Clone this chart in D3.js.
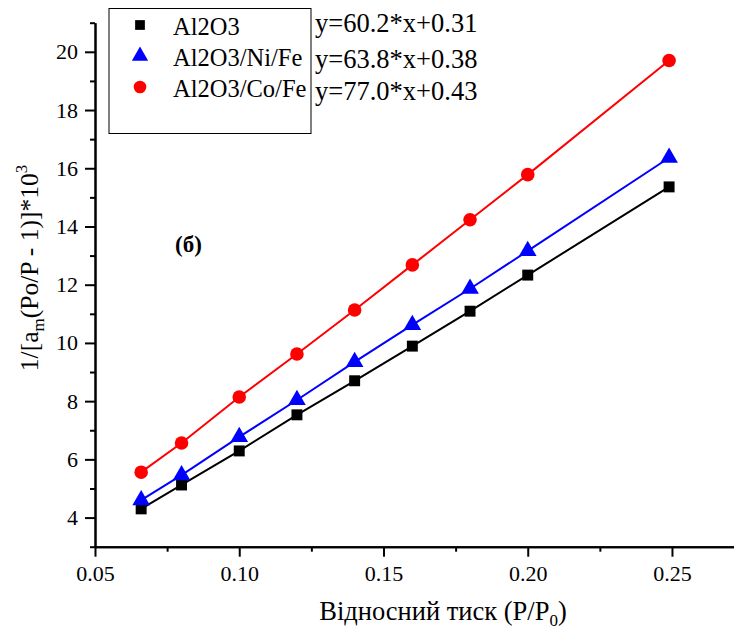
<!DOCTYPE html>
<html>
<head>
<meta charset="utf-8">
<script src="https://cdn.jsdelivr.net/npm/d3@7"></script>
<style>
  html, body { margin: 0; padding: 0; background: #fff; }
  svg { display: block; }
  text { font-family: "Liberation Serif", "Times New Roman", serif; fill: #000; }
</style>
</head>
<body>
<svg id="chart" width="734" height="630"></svg>
<script>
// ---- data ----
const pressure = [0.066, 0.080, 0.100, 0.120, 0.140, 0.160, 0.180, 0.200, 0.249];
const al2o3     = [4.30, 5.12, 6.29, 7.53, 8.70, 9.89, 11.09, 12.33, 15.36];
const al2o3NiFe = [4.60, 5.46, 6.77, 8.04, 9.35, 10.62, 11.86, 13.16, 16.36];
const al2o3CoFe = [5.56, 6.56, 8.14, 9.62, 11.13, 12.68, 14.23, 15.78, 19.70];
const seriesNames = ["Al2O3", "Al2O3/Ni/Fe", "Al2O3/Co/Fe"];
const equations = ["y=60.2*x+0.31", "y=63.8*x+0.38", "y=77.0*x+0.43"];
const xTicks = [0.05, 0.10, 0.15, 0.20, 0.25];
const xMinorTicks = [0.075, 0.125, 0.175, 0.225];
const yTicks = [4, 6, 8, 10, 12, 14, 16, 18, 20];
const yMinorTicks = [3, 5, 7, 9, 11, 13, 15, 17, 19, 21];

const FONT = "Liberation Serif, Times New Roman, serif";

const series = [
  { name: seriesNames[0], values: al2o3,     color: "#000000", shape: "square" },
  { name: seriesNames[1], values: al2o3NiFe, color: "#0000ff", shape: "triangle" },
  { name: seriesNames[2], values: al2o3CoFe, color: "#ff0000", shape: "circle" }
];

const svg = d3.select("#chart");
const x = d3.scaleLinear().domain([0.05, 0.2715]).range([95, 734]);
const y = d3.scaleLinear().domain([3, 21]).range([546.7, 22.7]);

// axes
const yAxisMinor = d3.axisLeft(y).tickValues(yMinorTicks).tickSize(5).tickFormat("").tickSizeOuter(0);
const yAxis = d3.axisLeft(y).tickValues(yTicks).tickSize(10).tickPadding(7).tickSizeOuter(0);
const xAxisMinor = d3.axisBottom(x).tickValues(xMinorTicks).tickSize(5).tickFormat("").tickSizeOuter(0);
const xAxis = d3.axisBottom(x).tickValues(xTicks).tickSize(10).tickPadding(9).tickFormat(d3.format(".2f")).tickSizeOuter(0);

function styleAxis(g) {
  g.attr("font-family", FONT).attr("font-size", 22);
  g.selectAll("path.domain").attr("stroke", "#000").attr("stroke-width", 2);
  g.selectAll(".tick line").attr("stroke", "#000").attr("stroke-width", 2);
  g.selectAll(".tick text").attr("font-family", FONT).style("font-size", "22px").attr("fill", "#000");
}
svg.append("g").attr("transform", "translate(95,0)").call(yAxisMinor).call(styleAxis);
svg.append("g").attr("transform", "translate(95,0)").call(yAxis).call(styleAxis);
svg.append("g").attr("transform", "translate(0,546.7)").call(xAxisMinor).call(styleAxis);
svg.append("g").attr("transform", "translate(0,546.7)").call(xAxis).call(styleAxis);

// lines and markers
const line = d3.line().x((d, i) => x(pressure[i])).y(d => y(d));
const symGen = {
  square: d3.symbol().type(d3.symbolSquare).size(120),
  triangle: d3.symbol().type(d3.symbolTriangle).size(135),
  circle: d3.symbol().type(d3.symbolCircle).size(145)
};
series.forEach(s => {
  svg.append("path").datum(s.values).attr("d", line)
    .attr("fill", "none").attr("stroke", s.color).attr("stroke-width", 2);
});
series.forEach(s => {
  svg.append("g").selectAll("path").data(s.values).join("path")
    .attr("transform", (d, i) => `translate(${x(pressure[i])},${y(d)})`)
    .attr("d", symGen[s.shape]()).attr("fill", s.color);
});

// legend
svg.append("rect").attr("x", 109).attr("y", 8.5).attr("width", 202).attr("height", 125)
  .attr("fill", "#fff").attr("stroke", "#000").attr("stroke-width", 1);
const legSym = {
  square: d3.symbol().type(d3.symbolSquare).size(95),
  triangle: d3.symbol().type(d3.symbolTriangle).size(115),
  circle: d3.symbol().type(d3.symbolCircle).size(125)
};
const legY = [25, 56, 87];
series.forEach((s, i) => {
  svg.append("path").attr("transform", `translate(140,${legY[i]})`).attr("d", legSym[s.shape]()).attr("fill", s.color);
  svg.append("text").attr("x", 173).attr("y", legY[i] + 9.5).attr("font-family", FONT).style("font-size", "24.5px").text(s.name);
});
const eqY = [32.3, 68.3, 100];
equations.forEach((t, i) => {
  svg.append("text").attr("x", 315).attr("y", eqY[i]).attr("font-family", FONT).style("font-size", "26.5px").text(t);
});

// label (б)
svg.append("text").attr("x", 175).attr("y", 252).attr("font-family", FONT).style("font-size", "23px").style("font-weight", "bold").text("(б)");

// y label
const yl = svg.append("text").attr("transform", "translate(38,268) rotate(-90)")
  .attr("text-anchor", "middle").attr("font-family", FONT).style("font-size", "25.5px");
yl.append("tspan").text("1/[a");
yl.append("tspan").attr("dy", 6).style("font-size", "17px").text("m");
yl.append("tspan").attr("dy", -6).text("(Po/P - 1)]*10");
yl.append("tspan").attr("dy", -11).style("font-size", "17px").text("3");

// x label
const xl = svg.append("text").attr("x", 443).attr("y", 620).attr("text-anchor", "middle").attr("font-family", FONT).style("font-size", "26.5px");
xl.append("tspan").text("Відносний тиск (P/P");
xl.append("tspan").attr("dy", 6).style("font-size", "17px").text("0");
xl.append("tspan").attr("dy", -6).text(")");
</script>
</body>
</html>
